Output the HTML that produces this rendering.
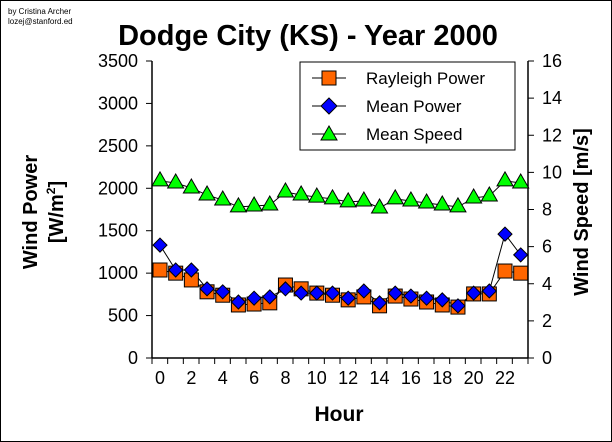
<!DOCTYPE html>
<html><head><meta charset="utf-8"><style>
body{margin:0;background:#fff}
svg{display:block;font-family:"Liberation Sans",Arial,sans-serif}
</style></head><body>
<svg id="c" width="612" height="442" viewBox="0 0 612 442">
<rect x="0.5" y="0.5" width="611" height="441" fill="#fff" stroke="#000"/>
<text x="8" y="14" font-size="8">by Cristina Archer</text>
<text x="8" y="24" font-size="8">lozej@stanford.ed</text>
<text x="308" y="45" font-size="29" font-weight="bold" text-anchor="middle">Dodge City (KS) - Year 2000</text>
<g id="axes"></g>
<g id="marks"></g>
<text transform="translate(37,212) rotate(-90)" font-size="20" font-weight="bold" text-anchor="middle">Wind Power</text>
<text transform="translate(63,212) rotate(-90)" font-size="20" font-weight="bold" text-anchor="middle">[W/m<tspan font-size="12" dy="-8">2</tspan><tspan dy="8">]</tspan></text>
<text transform="translate(588,212) rotate(-90)" font-size="20" font-weight="bold" text-anchor="middle">Wind Speed [m/s]</text>
<text x="339" y="421" font-size="21" font-weight="bold" text-anchor="middle">Hour</text>
<g>
<rect x="300" y="62" width="215" height="88" fill="#fff" stroke="#000"/>
<line x1="312" y1="78" x2="346" y2="78" stroke="#000"/><rect x="322" y="71" width="14" height="14" fill="#ff6600" stroke="#000"/>
<text x="366" y="84" font-size="17">Rayleigh Power</text>
<line x1="312" y1="106" x2="346" y2="106" stroke="#000"/><polygon points="329,98 337,106 329,114 321,106" fill="#0000ff" stroke="#000"/>
<text x="366" y="112" font-size="17">Mean Power</text>
<line x1="312" y1="134" x2="346" y2="134" stroke="#000"/><polygon points="329,126 337,140 321,140" fill="#00ff00" stroke="#000"/>
<text x="366" y="140" font-size="17">Mean Speed</text>
</g>
</svg>
<script>
const hours=[0,1,2,3,4,5,6,7,8,9,10,11,12,13,14,15,16,17,18,19,20,21,22,23];
const rayleighPower=[1037,1000,920,780,740,625,636,650,860,815,765,740,685,720,615,730,695,660,625,600,755,755,1025,1000];
const meanPower=[1330,1037,1037,815,780,660,705,720,815,765,765,765,705,790,650,765,730,705,685,615,765,790,1460,1215];
const meanSpeed=[9.54,9.43,9.16,8.78,8.51,8.14,8.19,8.24,8.94,8.78,8.67,8.57,8.41,8.46,8.08,8.57,8.46,8.35,8.24,8.14,8.62,8.73,9.54,9.43];
const leftTicks=[0,500,1000,1500,2000,2500,3000,3500];
const rightTicks=[0,2,4,6,8,10,12,14,16];
const xTicks=[0,2,4,6,8,10,12,14,16,18,20,22];
const NS="http://www.w3.org/2000/svg";
const L=152,R=528,T=61,B=358;
const xS=h=>160+h*(505-160)/22;
const yP=v=>B-v/3500*(B-T);
const yS=v=>B-v/16*(B-T);
function mk(tag,attrs,parent){const e=document.createElementNS(NS,tag);for(const k in attrs)e.setAttribute(k,attrs[k]);parent.appendChild(e);return e;}
const ax=document.getElementById('axes'),mg=document.getElementById('marks');
let e;
e=mk('line',{x1:L,y1:T,x2:L,y2:B,stroke:'#000','stroke-width':1.5},ax);


e=mk('line',{x1:R,y1:T,x2:R,y2:B,stroke:'#000','stroke-width':1.5},ax);


e=mk('line',{x1:L,y1:B,x2:R,y2:B,stroke:'#000','stroke-width':1.5},ax);


leftTicks.forEach(v=>{mk('line',{x1:L-6,y1:yP(v),x2:L,y2:yP(v),stroke:'#000'},ax);
const t=mk('text',{x:L-14,y:yP(v)+6,'font-size':18,'text-anchor':'end'},ax);t.textContent=v;

});
rightTicks.forEach(v=>{mk('line',{x1:R,y1:yS(v),x2:R+6,y2:yS(v),stroke:'#000'},ax);
const t=mk('text',{x:R+14,y:yS(v)+6,'font-size':18},ax);t.textContent=v;

});
for(let h=0;h<=24;h++){const x=152+h*(R-L)/24;mk('line',{x1:x,y1:B,x2:x,y2:B+6,stroke:'#000'},ax);}
xTicks.forEach(h=>{const t=mk('text',{x:xS(h),y:B+26,'font-size':18,'text-anchor':'middle'},ax);t.textContent=h;

});
function line(vals,fy,name){const p=mk('polyline',{points:vals.map((v,i)=>xS(hours[i])+','+fy(v)).join(' '),fill:'none',stroke:'#000','stroke-width':1},mg);

}
line(meanSpeed,yS,'mean-speed-line');
line(rayleighPower,yP,'rayleigh-line');
line(meanPower,yP,'mean-power-line');
meanSpeed.forEach((v,i)=>{const x=xS(hours[i]),y=yS(v);
const m=mk('polygon',{points:`${x},${y-9} ${x+8},${y+5} ${x-8},${y+5}`,fill:'#00ff00',stroke:'#000'},mg);

});
rayleighPower.forEach((v,i)=>{const x=xS(hours[i]),y=yP(v);
const m=mk('rect',{x:x-7,y:y-7,width:14,height:14,fill:'#ff6600',stroke:'#000'},mg);

});
meanPower.forEach((v,i)=>{const x=xS(hours[i]),y=yP(v);
const m=mk('polygon',{points:`${x},${y-7} ${x+7},${y} ${x},${y+7} ${x-7},${y}`,fill:'#0000ff',stroke:'#000'},mg);

});
</script>
</body></html>
